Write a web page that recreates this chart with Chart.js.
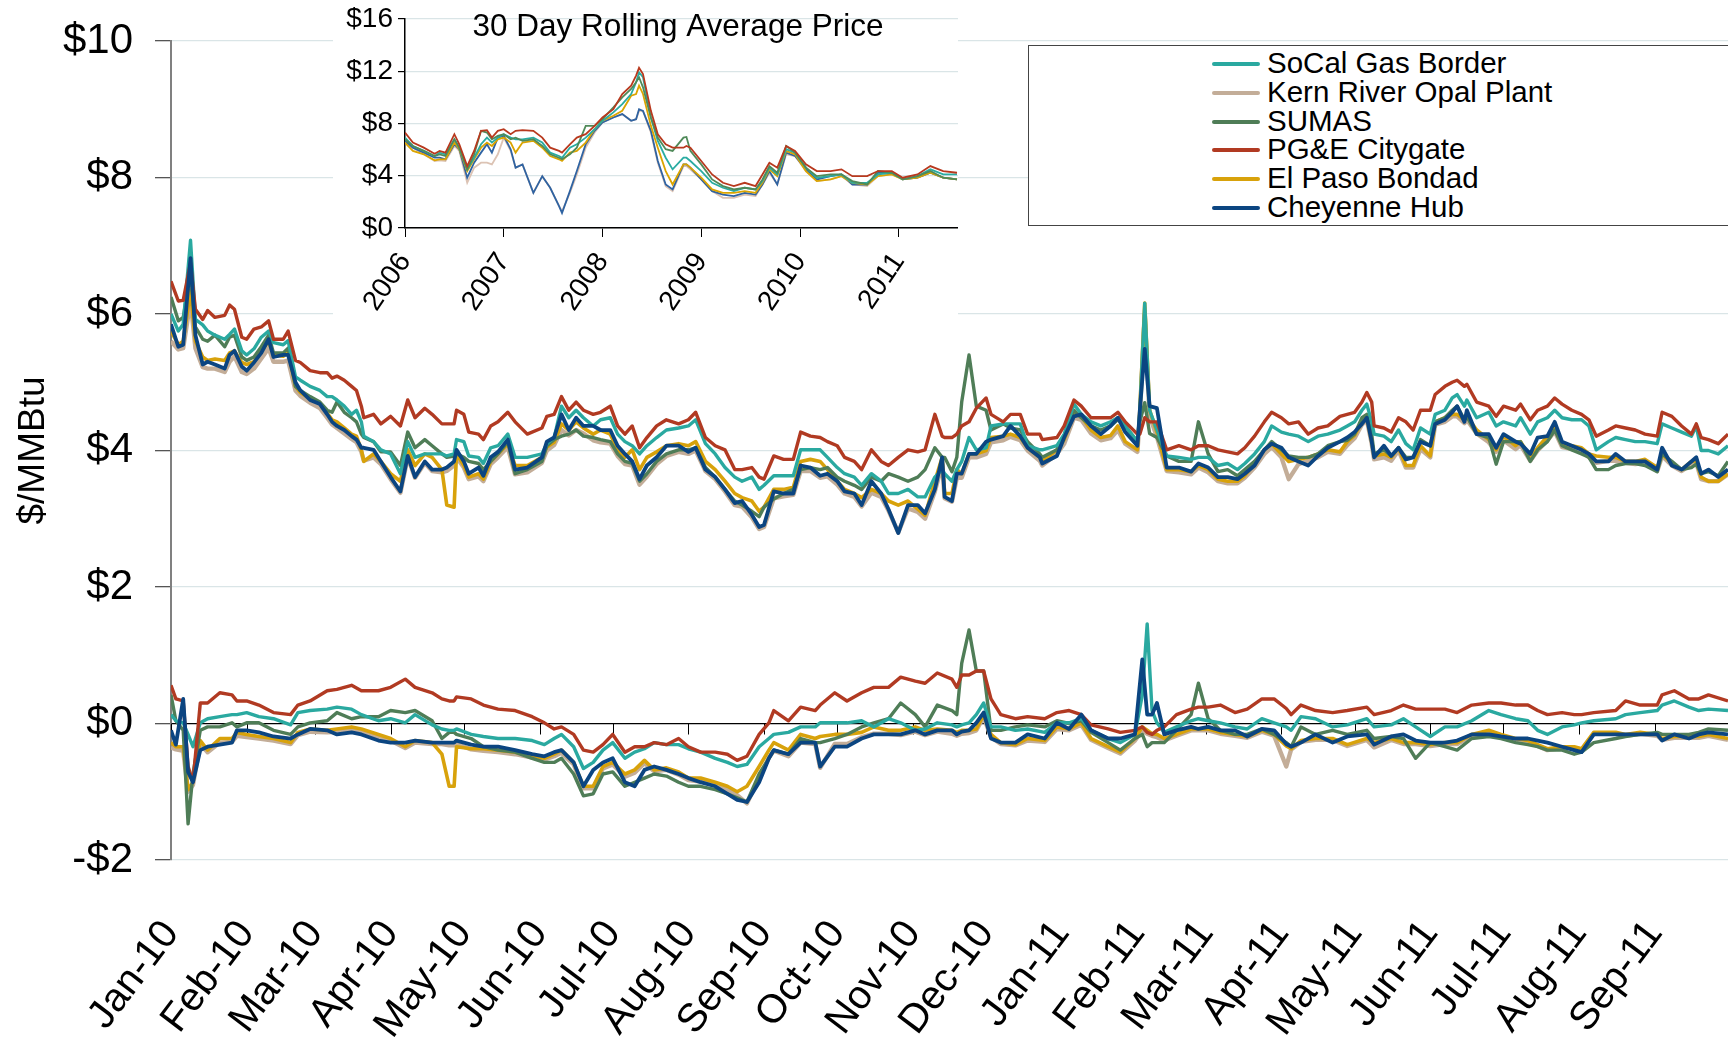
<!DOCTYPE html>
<html>
<head>
<meta charset="utf-8">
<script src="https://cdn.jsdelivr.net/npm/chart.js@4.4.1/dist/chart.umd.min.js"></script>
<style>
  html, body { margin: 0; padding: 0; background: #fff; }
  #wrap { position: relative; width: 1728px; height: 1037px; overflow: hidden; font-family: "Liberation Sans", Arial, sans-serif; }
  #main { position: absolute; left: 0; top: 0; }
  #inset { position: absolute; left: 333px; top: 0; background: #fff; }
  #legend { position: absolute; left: 1028px; top: 45px; width: 705px; height: 181px; border: 1.5px solid #444; background: #fff; padding-top: 3px; box-sizing: border-box; }
  .row { height: 28.8px; line-height: 28.8px; font-size: 29.5px; color: #000; position: relative; white-space: nowrap; }
  .row span.sw { position: absolute; left: 183px; top: 13px; width: 48px; height: 4px; border-radius: 2px; }
  .row span.tx { position: absolute; left: 238px; top: 0; }
</style>
</head>
<body>
<div id="wrap">
  <canvas id="main" width="1728" height="1037"></canvas>
  <canvas id="inset" width="625" height="318"></canvas>
  <div id="legend"></div>
</div>
<script>
// month axis (days since 2010-01-01)
const monthStarts = [0, 31, 59, 90, 120, 151, 181, 212, 243, 273, 304, 334, 365, 396, 424, 455, 485, 516, 546, 577, 608]
const monthLabels = ['Jan-10', 'Feb-10', 'Mar-10', 'Apr-10', 'May-10', 'Jun-10', 'Jul-10', 'Aug-10', 'Sep-10', 'Oct-10', 'Nov-10', 'Dec-10',
  'Jan-11', 'Feb-11', 'Mar-11', 'Apr-11', 'May-11', 'Jun-11', 'Jul-11', 'Aug-11', 'Sep-11']

const stations = ['SoCal Gas Border', 'Kern River Opal Plant', 'SUMAS', 'PG&E Citygate', 'El Paso Bondad', 'Cheyenne Hub']

// daily spot prices, $/MMBtu
const priceDays = [
  0, 3, 5, 8, 10, 13, 15, 18, 22, 24,
  26, 29, 31, 34, 37, 40, 42, 46, 48, 51,
  53, 57, 61, 64, 66, 68, 71, 74, 76, 78,
  79, 83, 86, 90, 94, 97, 100, 104, 107, 111,
  113, 116, 117, 120, 122, 126, 128, 131, 134, 138,
  141, 146, 152, 154, 157, 160, 163, 166, 169, 173,
  176, 180, 183, 186, 189, 192, 195, 199, 203, 208,
  212, 215, 219, 223, 227, 231, 234, 238, 241, 243,
  247, 251, 255, 258, 262, 266, 269, 273, 276, 280,
  283, 287, 291, 294, 298, 302, 306, 309, 313, 316,
  317, 320, 322, 324, 327, 330, 334, 336, 341, 344,
  348, 351, 356, 357, 363, 366, 370, 373, 377, 381,
  385, 388, 391, 396, 397, 399, 401, 404, 408, 413,
  418, 421, 425, 429, 433, 437, 440, 444, 448, 451,
  455, 458, 462, 466, 470, 474, 479, 482, 485, 488,
  490, 492, 493, 497, 500, 503, 506, 509, 512, 516,
  518, 522, 525, 527, 530, 531, 535, 540, 543, 546,
  551, 553, 557, 560, 564, 567, 570, 574, 578, 581,
  584, 589, 592, 596, 600, 604, 609, 611, 615, 619,
  623, 625, 627, 630, 634, 638]

const socalPrice = [
  6.0, 5.75, 5.85, 7.08, 5.92, 5.84, 5.75, 5.69, 5.63, 5.7,
  5.78, 5.46, 5.40, 5.49, 5.66, 5.75, 5.58, 5.55, 5.61, 5.08,
  5.03, 4.94, 4.88, 4.79, 4.79, 4.74, 4.65, 4.53, 4.59, 4.42,
  4.21, 4.13, 4.01, 3.95, 3.66, 4.13, 3.90, 3.95, 3.95, 3.95,
  3.92, 3.95, 4.16, 4.13, 3.92, 3.90, 3.81, 4.04, 4.07, 4.24,
  3.90, 3.90, 3.95, 4.1, 4.19, 4.65, 4.48, 4.59, 4.48, 4.36,
  4.45, 4.48, 4.24, 4.13, 4.07, 3.95, 4.07, 4.19, 4.30, 4.33,
  4.36, 4.45, 4.10, 3.95, 3.75, 3.61, 3.55, 3.61, 3.43, 3.49,
  3.63, 3.63, 3.63, 4.01, 4.01, 4.01, 3.90, 3.75, 3.66, 3.61,
  3.49, 3.66, 3.55, 3.37, 3.37, 3.43, 3.32, 3.32, 3.61, 3.72,
  3.66, 3.55, 3.72, 3.84, 4.19, 4.01, 4.04, 4.36, 4.39, 4.39,
  4.39, 4.07, 4.01, 4.01, 4.07, 4.24, 4.68, 4.53, 4.42, 4.36,
  4.42, 4.48, 4.36, 4.13, 4.56, 6.16, 4.59, 4.3, 3.92, 3.90,
  3.87, 3.90, 3.90, 3.78, 3.81, 3.72, 3.81, 3.95, 4.13, 4.36,
  4.27, 4.24, 4.21, 4.13, 4.21, 4.24, 4.30, 4.36, 4.42, 4.59,
  4.68, 4.42, 4.24, 4.21, 4.13, 4.30, 4.10, 4.01, 4.33, 4.24,
  4.53, 4.59, 4.77, 4.82, 4.65, 4.74, 4.48, 4.56, 4.36, 4.42,
  4.36, 4.48, 4.24, 4.42, 4.48, 4.59, 4.48, 4.45, 4.45, 4.36,
  4.01, 4.13, 4.19, 4.16, 4.13, 4.13, 4.10, 4.39, 4.33, 4.27,
  4.21, 4.36, 4.0, 4.0, 3.95, 4.07]

const kernPrice = [
  5.6, 5.48, 5.5, 6.2, 5.5, 5.22, 5.2, 5.2, 5.15, 5.3,
  5.38, 5.15, 5.12, 5.2, 5.35, 5.5, 5.3, 5.3, 5.32, 4.88,
  4.8, 4.7, 4.62, 4.48, 4.38, 4.33, 4.25, 4.17, 4.12, 3.98,
  3.85, 3.9, 3.8, 3.58, 3.38, 3.9, 3.6, 3.82, 3.7, 3.68,
  3.7, 3.78, 3.9, 3.75, 3.58, 3.62, 3.55, 3.8, 3.9, 4.05,
  3.65, 3.68, 3.82, 4.0, 4.08, 4.3, 4.22, 4.3, 4.25, 4.15,
  4.12, 4.1, 3.92, 3.8, 3.78, 3.5, 3.62, 3.8, 3.92, 3.98,
  3.95, 4.0, 3.7, 3.58, 3.4, 3.2, 3.18, 3.02, 2.85, 2.88,
  3.3, 3.33, 3.35, 3.7, 3.7, 3.6, 3.62, 3.5, 3.37, 3.32,
  3.18, 3.38, 3.32, 3.12, 2.8, 3.15, 3.1, 3.0, 3.4, 3.8,
  3.3, 3.25, 3.6, 3.6, 3.9, 3.9, 3.95, 4.12, 4.15, 4.2,
  4.15, 4.0, 3.85, 3.78, 3.95, 4.1, 4.48, 4.45, 4.25, 4.15,
  4.18, 4.3, 4.1, 3.98, 4.5, 6.0, 4.5, 4.2, 3.7, 3.68,
  3.65, 3.75, 3.68, 3.55, 3.52, 3.52, 3.6, 3.75, 3.95, 4.05,
  3.9, 3.58, 3.8, 3.85, 3.9, 3.98, 3.95, 4.08, 4.18, 4.38,
  4.45, 4.1, 3.87, 3.9, 3.85, 4.0, 3.75, 3.75, 4.02, 3.9,
  4.38, 4.42, 4.5, 4.5, 4.4, 4.45, 4.25, 4.12, 3.98, 4.15,
  4.02, 4.08, 3.85, 4.0, 4.15, 4.28, 4.05, 4.02, 4.0, 3.9,
  3.82, 3.85, 3.85, 3.82, 3.8, 3.82, 3.7, 3.92, 3.78, 3.7,
  3.8, 3.82, 3.58, 3.55, 3.55, 3.65]

const sumasPrice = [
  6.25, 5.9, 5.95, 6.6, 5.81, 5.63, 5.6, 5.69, 5.52, 5.66,
  5.69, 5.37, 5.32, 5.37, 5.52, 5.69, 5.43, 5.43, 5.5, 4.94,
  4.88, 4.79, 4.71, 4.59, 4.56, 4.71, 4.56, 4.48, 4.42, 4.24,
  4.19, 4.13, 3.98, 3.98, 3.78, 4.27, 4.04, 4.16, 4.07, 3.95,
  3.90, 3.92, 3.95, 3.90, 3.84, 3.81, 3.72, 3.84, 3.95, 4.13,
  3.66, 3.72, 3.84, 4.07, 4.16, 4.21, 4.24, 4.30, 4.21, 4.19,
  4.16, 4.13, 3.95, 3.84, 3.81, 3.55, 3.66, 3.84, 3.95, 4.01,
  4.01, 4.04, 3.75, 3.61, 3.43, 3.26, 3.2, 3.11, 3.03, 3.17,
  3.29, 3.37, 3.43, 3.72, 3.75, 3.72, 3.75, 3.61, 3.55, 3.49,
  3.43, 3.61, 3.55, 3.66, 3.61, 3.55, 3.61, 3.72, 4.04, 3.90,
  3.90, 3.69, 3.90, 4.71, 5.40, 4.65, 4.59, 4.30, 4.39, 4.33,
  4.30, 4.13, 3.95, 3.90, 4.01, 4.21, 4.59, 4.48, 4.36, 4.30,
  4.36, 4.45, 4.36, 4.13, 4.42, 4.7, 4.25, 4.19, 3.92, 3.84,
  3.84, 4.42, 3.95, 3.69, 3.72, 3.63, 3.72, 3.84, 4.01, 4.13,
  4.01, 3.92, 3.90, 3.90, 3.95, 4.07, 4.13, 4.15, 4.24, 4.48,
  4.53, 4.24, 3.95, 4.01, 3.92, 4.04, 3.90, 3.90, 4.16, 4.07,
  4.42, 4.48, 4.59, 4.65, 4.45, 4.5, 4.24, 4.19, 3.80, 4.13,
  4.13, 4.13, 3.84, 4.01, 4.13, 4.30, 4.07, 4.01, 3.95, 3.90,
  3.72, 3.72, 3.78, 3.81, 3.81, 3.78, 3.69, 3.95, 3.84, 3.72,
  3.75, 3.8, 3.66, 3.69, 3.63, 3.84]

const pgePrice = [
  6.48, 6.19, 6.2, 6.75, 6.07, 5.92, 6.05, 5.95, 5.98, 6.13,
  6.07, 5.66, 5.63, 5.78, 5.81, 5.90, 5.63, 5.63, 5.75, 5.32,
  5.29, 5.17, 5.14, 5.14, 5.06, 5.09, 5.03, 4.94, 4.88, 4.65,
  4.48, 4.53, 4.39, 4.50, 4.36, 4.74, 4.48, 4.62, 4.53, 4.39,
  4.39, 4.39, 4.59, 4.53, 4.27, 4.24, 4.16, 4.36, 4.42, 4.56,
  4.42, 4.24, 4.33, 4.50, 4.53, 4.79, 4.59, 4.71, 4.59, 4.53,
  4.56, 4.65, 4.36, 4.24, 4.36, 4.04, 4.19, 4.36, 4.45, 4.39,
  4.45, 4.56, 4.19, 4.07, 4.01, 3.72, 3.72, 3.75, 3.61, 3.58,
  3.92, 3.87, 3.87, 4.27, 4.21, 4.19, 4.13, 4.07, 3.90, 3.84,
  3.72, 4.01, 3.84, 3.78, 3.90, 4.01, 3.98, 4.01, 4.53, 4.21,
  4.19, 4.19, 4.24, 4.36, 4.42, 4.62, 4.77, 4.53, 4.42, 4.53,
  4.53, 4.24, 4.24, 4.16, 4.19, 4.36, 4.74, 4.65, 4.48, 4.48,
  4.48, 4.56, 4.42, 4.24, 4.24, 4.48, 4.42, 4.42, 4.01, 4.07,
  4.01, 4.07, 4.07, 4.01, 3.98, 3.95, 4.04, 4.21, 4.42, 4.56,
  4.48, 4.39, 4.42, 4.24, 4.33, 4.36, 4.50, 4.53, 4.56, 4.71,
  4.85, 4.71, 4.36, 4.33, 4.27, 4.48, 4.42, 4.30, 4.59, 4.59,
  4.82, 4.94, 5.0, 5.03, 4.94, 4.97, 4.71, 4.65, 4.50, 4.65,
  4.59, 4.68, 4.45, 4.59, 4.65, 4.77, 4.68, 4.59, 4.53, 4.45,
  4.21, 4.30, 4.36, 4.33, 4.30, 4.24, 4.21, 4.56, 4.50, 4.36,
  4.24, 4.39, 4.19, 4.16, 4.10, 4.24]

const elpasoPrice = [
  5.75, 5.55, 5.6, 6.35, 5.6, 5.37, 5.32, 5.34, 5.32, 5.43,
  5.46, 5.29, 5.26, 5.3, 5.45, 5.6, 5.4, 5.38, 5.45, 4.94,
  4.85, 4.76, 4.7, 4.55, 4.45, 4.42, 4.33, 4.24, 4.21, 4.01,
  3.84, 3.95, 3.84, 3.66, 3.55, 4.01, 3.78, 3.95, 3.90, 3.72,
  3.20, 3.17, 3.95, 3.78, 3.61, 3.66, 3.58, 3.84, 3.95, 4.1,
  3.78, 3.78, 3.9, 4.05, 4.12, 4.39, 4.30, 4.42, 4.33, 4.24,
  4.3, 4.24, 4.01, 3.90, 4.01, 3.72, 3.90, 3.98, 4.07, 4.10,
  4.07, 4.13, 3.84, 3.72, 3.55, 3.37, 3.31, 3.26, 3.11, 3.17,
  3.43, 3.43, 3.46, 3.84, 3.87, 3.84, 3.72, 3.55, 3.43, 3.37,
  3.31, 3.43, 3.37, 3.26, 3.20, 3.26, 3.14, 3.05, 3.55, 3.90,
  3.37, 3.37, 3.72, 3.66, 3.95, 3.95, 4.0, 4.19, 4.21, 4.24,
  4.19, 4.04, 3.90, 3.84, 4.01, 4.16, 4.53, 4.5, 4.30, 4.19,
  4.22, 4.36, 4.13, 4.01, 4.59, 6.16, 4.59, 4.27, 3.72, 3.72,
  3.69, 3.78, 3.72, 3.58, 3.55, 3.55, 3.63, 3.81, 4.01, 4.1,
  3.95, 3.84, 3.87, 3.90, 3.95, 4.01, 3.98, 4.13, 4.22, 4.42,
  4.5, 4.13, 3.92, 3.95, 3.90, 4.04, 3.78, 3.78, 4.07, 3.92,
  4.42, 4.48, 4.53, 4.53, 4.45, 4.5, 4.30, 4.16, 4.01, 4.21,
  4.07, 4.13, 3.90, 4.04, 4.21, 4.33, 4.1, 4.07, 4.04, 3.95,
  3.92, 3.90, 3.90, 3.84, 3.84, 3.87, 3.75, 3.95, 3.81, 3.72,
  3.84, 3.85, 3.61, 3.55, 3.55, 3.66]

const cheyennePrice = [
  5.85, 5.52, 5.55, 6.82, 5.69, 5.26, 5.3, 5.26, 5.2, 5.40,
  5.46, 5.23, 5.17, 5.29, 5.43, 5.63, 5.37, 5.40, 5.40, 5.0,
  4.88, 4.74, 4.68, 4.53, 4.42, 4.36, 4.30, 4.21, 4.16, 4.04,
  4.04, 4.01, 3.84, 3.61, 3.40, 3.92, 3.61, 3.84, 3.72, 3.72,
  3.75, 3.84, 4.01, 3.84, 3.66, 3.75, 3.63, 3.90, 3.98, 4.16,
  3.72, 3.75, 3.90, 4.13, 4.19, 4.53, 4.30, 4.48, 4.36, 4.36,
  4.30, 4.30, 4.07, 3.95, 3.84, 3.58, 3.78, 3.90, 4.07, 4.07,
  3.98, 4.04, 3.72, 3.61, 3.43, 3.23, 3.26, 3.06, 2.88, 2.91,
  3.40, 3.37, 3.37, 3.78, 3.75, 3.63, 3.66, 3.55, 3.40, 3.37,
  3.20, 3.55, 3.37, 3.14, 2.79, 3.20, 3.20, 3.08, 3.43, 3.90,
  3.32, 3.26, 3.66, 3.66, 3.95, 3.95, 4.13, 4.16, 4.21, 4.36,
  4.21, 4.04, 3.90, 3.81, 3.92, 4.19, 4.50, 4.53, 4.36, 4.24,
  4.36, 4.48, 4.27, 4.07, 4.59, 5.49, 4.65, 4.62, 3.75, 3.75,
  3.69, 3.81, 3.75, 3.61, 3.61, 3.58, 3.66, 3.78, 4.01, 4.10,
  4.04, 3.90, 3.84, 3.78, 3.92, 4.04, 4.13, 4.19, 4.27, 4.39,
  4.48, 4.13, 3.90, 4.07, 3.92, 4.04, 3.87, 3.90, 4.13, 4.07,
  4.39, 4.45, 4.56, 4.65, 4.42, 4.59, 4.24, 4.24, 4.04, 4.24,
  4.13, 4.10, 3.95, 4.19, 4.21, 4.42, 4.13, 4.07, 4.01, 3.95,
  3.84, 3.84, 3.95, 3.84, 3.84, 3.84, 3.72, 4.04, 3.78, 3.72,
  3.84, 3.90, 3.66, 3.72, 3.61, 3.72]

// basis to Henry Hub, $/MMBtu
const basisDays = [
  0, 2, 5, 7, 9, 12, 15, 20, 25, 27,
  31, 36, 42, 49, 52, 57, 64, 68, 74, 78,
  85, 90, 96, 100, 107, 111, 114, 116, 117, 123,
  128, 134, 141, 148, 153, 157, 160, 165, 169, 173,
  177, 181, 186, 190, 194, 198, 203, 208, 212, 217,
  223, 228, 232, 236, 241, 245, 247, 253, 258, 264,
  266, 272, 277, 283, 288, 294, 299, 305, 309, 314,
  320, 322, 324, 327, 330, 333, 336, 340, 346, 351,
  358, 363, 368, 373, 377, 384, 389, 395, 398, 400,
  402, 404, 407, 412, 418, 421, 425, 430, 436, 441,
  447, 452, 457, 459, 463, 469, 476, 482, 490, 493,
  500, 505, 510, 516, 522, 527, 533, 540, 545, 551,
  556, 560, 564, 570, 575, 578, 583, 592, 596, 602,
  609, 611, 616, 622, 626, 630, 638]

const socalBasis = [
  0.13, 0.04, 0.01, -0.16, -0.34, 0.01, 0.07, 0.10, 0.13, 0.13,
  0.16, 0.10, 0.07, -0.02, 0.16, 0.19, 0.21, 0.24, 0.21, 0.13,
  0.04, 0.07, 0.01, 0.13, -0.02, -0.08, -0.10, -0.10, -0.08, -0.16,
  -0.19, -0.22, -0.22, -0.25, -0.31, -0.22, -0.16, -0.34, -0.66, -0.57,
  -0.39, -0.28, -0.51, -0.42, -0.37, -0.28, -0.31, -0.31, -0.37, -0.42,
  -0.51, -0.57, -0.63, -0.60, -0.34, -0.22, -0.16, -0.13, -0.05, -0.05,
  0.01, 0.01, 0.01, 0.04, -0.05, 0.07, 0.01, -0.10, -0.08, 0.01,
  -0.02, -0.05, -0.02, 0.01, 0.13, 0.30, -0.05, -0.05, -0.10, -0.08,
  -0.13, 0.01, 0.01, 0.07, -0.10, -0.22, -0.28, -0.16, 0.42, 1.46,
  0.19, 0.01, -0.13, -0.05, 0.04, 0.07, 0.04, 0.01, -0.05, -0.08,
  0.07, 0.01, -0.05, -0.10, 0.10, 0.07, -0.05, -0.02, 0.07, -0.05,
  -0.02, 0.07, -0.05, -0.19, -0.05, -0.05, 0.04, 0.19, 0.13, 0.07,
  0.04, -0.10, -0.16, -0.05, -0.02, 0.01, 0.04, 0.07, 0.13, 0.16,
  0.19, 0.27, 0.33, 0.24, 0.19, 0.21, 0.19]

const kernBasis = [
  -0.35, -0.38, -0.4, -1.0, -0.9, -0.3, -0.42, -0.28, -0.27, -0.18,
  -0.2, -0.22, -0.25, -0.3, -0.17, -0.12, -0.13, -0.12, -0.1, -0.12,
  -0.2, -0.25, -0.36, -0.28, -0.3, -0.3, -0.32, -0.32, -0.3, -0.38,
  -0.4, -0.42, -0.45, -0.5, -0.53, -0.48, -0.43, -0.6, -0.95, -0.95,
  -0.66, -0.6, -0.78, -0.72, -0.58, -0.7, -0.68, -0.75, -0.83, -0.85,
  -0.9, -0.97, -1.05, -1.17, -0.8, -0.5, -0.4, -0.48, -0.28, -0.3,
  -0.65, -0.3, -0.3, -0.2, -0.15, -0.15, -0.17, -0.12, -0.17, -0.12,
  -0.15, -0.18, -0.15, -0.14, -0.1, 0.1, -0.2, -0.3, -0.32, -0.25,
  -0.27, -0.08, -0.1, -0.02, -0.24, -0.36, -0.44, -0.25, -0.1, -0.15,
  -0.18, -0.2, -0.25, -0.18, -0.1, -0.1, -0.1, -0.15, -0.18, -0.21,
  -0.12, -0.18, -0.63, -0.38, -0.27, -0.24, -0.24, -0.33, -0.24, -0.35,
  -0.24, -0.3, -0.3, -0.33, -0.3, -0.3, -0.18, -0.12, -0.18, -0.24,
  -0.27, -0.33, -0.39, -0.36, -0.36, -0.39, -0.15, -0.15, -0.18, -0.15,
  -0.18, -0.24, -0.21, -0.21, -0.21, -0.18, -0.24]

const sumasBasis = [
  0.42, 0.04, -0.1, -1.47, -0.74, -0.10, -0.05, -0.05, 0.01, -0.05,
  0.01, 0.01, -0.10, -0.16, -0.05, 0.01, 0.04, 0.16, 0.07, 0.10,
  0.10, 0.19, 0.16, 0.19, 0.04, -0.22, -0.13, -0.13, -0.16, -0.22,
  -0.34, -0.39, -0.42, -0.51, -0.57, -0.57, -0.51, -0.74, -1.06, -1.03,
  -0.74, -0.71, -0.92, -0.86, -0.80, -0.74, -0.77, -0.86, -0.92, -0.92,
  -0.97, -1.03, -1.09, -1.15, -0.74, -0.51, -0.39, -0.45, -0.22, -0.28,
  -0.28, -0.22, -0.16, -0.05, 0.01, 0.07, 0.30, 0.13, -0.05, 0.27,
  0.19, 0.13, 0.88, 1.37, 0.77, 0.77, -0.10, -0.10, -0.05, -0.02,
  -0.05, 0.04, 0.0, 0.04, -0.13, -0.28, -0.39, -0.22, -0.16, -0.34,
  -0.28, -0.28, -0.28, -0.10, 0.13, 0.59, 0.07, -0.10, -0.16, -0.16,
  -0.08, -0.16, -0.28, -0.34, -0.05, -0.16, -0.10, -0.16, -0.10, -0.22,
  -0.19, -0.22, -0.51, -0.28, -0.34, -0.39, -0.22, -0.19, -0.22, -0.28,
  -0.31, -0.34, -0.39, -0.39, -0.45, -0.42, -0.28, -0.22, -0.19, -0.16,
  -0.13, -0.16, -0.16, -0.16, -0.13, -0.08, -0.10]

const pgeBasis = [
  0.56, 0.36, 0.33, -0.63, -0.86, 0.30, 0.30, 0.45, 0.42, 0.33,
  0.33, 0.27, 0.16, 0.13, 0.27, 0.33, 0.48, 0.50, 0.56, 0.48,
  0.48, 0.53, 0.65, 0.53, 0.45, 0.36, 0.33, 0.33, 0.39, 0.36,
  0.27, 0.21, 0.19, 0.10, 0.01, -0.08, -0.05, -0.16, -0.39, -0.42,
  -0.31, -0.16, -0.42, -0.34, -0.34, -0.28, -0.31, -0.22, -0.34, -0.42,
  -0.42, -0.45, -0.54, -0.48, -0.16, 0.01, 0.19, 0.04, 0.24, 0.19,
  0.27, 0.45, 0.33, 0.45, 0.53, 0.53, 0.68, 0.62, 0.59, 0.74,
  0.65, 0.53, 0.71, 0.71, 0.77, 0.77, 0.36, 0.13, 0.07, 0.10,
  0.07, 0.16, 0.19, 0.13, -0.02, -0.08, -0.13, -0.10, -0.05, -0.13,
  -0.16, -0.10, -0.05, 0.13, 0.21, 0.24, 0.24, 0.27, 0.16, 0.21,
  0.36, 0.36, 0.22, 0.13, 0.27, 0.19, 0.16, 0.19, 0.24, 0.13,
  0.19, 0.27, 0.21, 0.21, 0.21, 0.16, 0.27, 0.30, 0.30, 0.27,
  0.27, 0.19, 0.13, 0.16, 0.13, 0.13, 0.16, 0.19, 0.33, 0.27,
  0.27, 0.42, 0.48, 0.36, 0.36, 0.42, 0.33]

const elpasoBasis = [
  -0.28, -0.34, -0.34, -0.97, -0.86, -0.25, -0.39, -0.22, -0.22, -0.13,
  -0.16, -0.19, -0.22, -0.28, -0.13, -0.08, -0.10, -0.08, -0.05, -0.08,
  -0.16, -0.22, -0.34, -0.25, -0.28, -0.45, -0.92, -0.92, -0.34, -0.37,
  -0.37, -0.39, -0.42, -0.48, -0.51, -0.45, -0.39, -0.57, -0.92, -0.92,
  -0.63, -0.57, -0.74, -0.68, -0.54, -0.68, -0.65, -0.71, -0.80, -0.80,
  -0.86, -0.92, -1.0, -0.92, -0.63, -0.39, -0.28, -0.39, -0.16, -0.22,
  -0.19, -0.16, -0.16, -0.13, -0.05, -0.10, -0.10, -0.05, -0.10, -0.08,
  -0.10, -0.13, -0.10, -0.10, -0.08, 0.13, -0.16, -0.28, -0.31, -0.22,
  -0.25, -0.05, -0.08, 0.01, -0.22, -0.34, -0.42, -0.22, -0.05, -0.10,
  -0.15, -0.16, -0.22, -0.16, -0.08, -0.08, -0.08, -0.13, -0.16, -0.19,
  -0.10, -0.16, -0.33, -0.37, -0.25, -0.22, -0.22, -0.31, -0.22, -0.28,
  -0.22, -0.28, -0.28, -0.31, -0.28, -0.28, -0.16, -0.10, -0.16, -0.22,
  -0.25, -0.31, -0.37, -0.34, -0.34, -0.37, -0.13, -0.13, -0.16, -0.13,
  -0.16, -0.22, -0.19, -0.19, -0.19, -0.16, -0.22]

const cheyenneBasis = [
  -0.10, -0.31, 0.36, -0.71, -0.86, -0.39, -0.34, -0.31, -0.28, -0.10,
  -0.10, -0.13, -0.19, -0.22, -0.16, -0.08, -0.10, -0.16, -0.13, -0.16,
  -0.25, -0.28, -0.28, -0.25, -0.28, -0.28, -0.28, -0.28, -0.25, -0.31,
  -0.34, -0.34, -0.39, -0.45, -0.48, -0.42, -0.39, -0.57, -0.92, -0.68,
  -0.57, -0.51, -0.86, -0.92, -0.68, -0.63, -0.68, -0.74, -0.80, -0.86,
  -0.92, -1.03, -1.12, -1.15, -0.86, -0.51, -0.39, -0.45, -0.28, -0.28,
  -0.63, -0.34, -0.34, -0.22, -0.16, -0.16, -0.16, -0.10, -0.16, -0.10,
  -0.10, -0.16, -0.12, -0.10, 0.01, 0.16, -0.22, -0.28, -0.28, -0.16,
  -0.22, 0.01, -0.08, 0.13, -0.10, -0.22, -0.22, -0.16, 0.94, 0.13,
  0.13, 0.30, -0.16, -0.10, -0.05, -0.08, -0.05, -0.10, -0.10, -0.19,
  -0.08, -0.10, -0.30, -0.34, -0.28, -0.16, -0.28, -0.19, -0.16, -0.31,
  -0.19, -0.16, -0.25, -0.28, -0.28, -0.25, -0.16, -0.16, -0.19, -0.22,
  -0.22, -0.25, -0.28, -0.34, -0.39, -0.42, -0.16, -0.16, -0.16, -0.16,
  -0.16, -0.25, -0.16, -0.22, -0.16, -0.13, -0.16]

// inset: 30 day rolling average, 2006 - 2011
const insetYears = [
  2006.00, 2006.08, 2006.19, 2006.30, 2006.35, 2006.41, 2006.50, 2006.55, 2006.63, 2006.70,
  2006.77, 2006.83, 2006.88, 2006.94, 2007.00, 2007.07, 2007.12, 2007.19, 2007.30, 2007.39,
  2007.47, 2007.56, 2007.59, 2007.67, 2007.74, 2007.83, 2007.92, 2008.00, 2008.11, 2008.20,
  2008.29, 2008.34, 2008.37, 2008.41, 2008.49, 2008.56, 2008.64, 2008.71, 2008.82, 2008.85,
  2008.89, 2009.00, 2009.11, 2009.22, 2009.33, 2009.44, 2009.55, 2009.62, 2009.69, 2009.77,
  2009.86, 2009.95, 2010.06, 2010.17, 2010.31, 2010.42, 2010.53, 2010.68, 2010.79, 2010.93,
  2011.04, 2011.19, 2011.32, 2011.45, 2011.59]

const socalAvg = [
  6.92, 6.28, 5.90, 5.51, 5.77, 5.64, 6.79, 6.15, 4.49, 5.38,
  6.41, 6.92, 6.54, 6.92, 7.18, 6.92, 6.79, 6.79, 6.92, 6.54,
  5.77, 5.51, 5.38, 6.15, 6.41, 6.92, 7.56, 8.21, 8.85, 9.49,
  10.26, 11.15, 11.92, 11.54, 8.46, 6.67, 5.38, 4.49, 5.38, 5.38,
  5.13, 4.36, 3.46, 3.08, 2.82, 3.08, 2.95, 3.59, 4.62, 4.10,
  6.03, 5.77, 4.62, 3.85, 3.97, 4.10, 3.46, 3.46, 4.10, 4.23,
  3.72, 3.97, 4.49, 4.10, 4.10]

const kernAvg = [
  6.54, 6.15, 5.64, 5.13, 5.18, 5.13, 6.28, 5.90, 3.46, 4.62,
  5.0, 5.0, 4.87, 5.64, 6.92, 5.90, 4.62, 4.87, 2.69, 3.97,
  3.08, 1.67, 1.28, 2.69, 4.10, 6.15, 7.31, 8.08, 8.46, 8.72,
  8.21, 8.33, 8.97, 8.97, 7.31, 5.0, 3.21, 2.82, 4.74, 4.74,
  4.49, 3.72, 2.82, 2.31, 2.31, 2.56, 2.44, 3.33, 4.23, 3.33,
  5.64, 5.51, 4.36, 3.59, 3.72, 3.97, 3.33, 3.21, 3.97, 4.10,
  3.72, 3.85, 4.23, 3.85, 3.72]

const sumasAvg = [
  6.79, 6.28, 5.90, 5.51, 5.64, 5.51, 6.79, 6.15, 4.49, 5.64,
  7.44, 7.31, 6.79, 7.05, 7.18, 6.79, 6.92, 6.67, 6.79, 6.28,
  5.64, 5.38, 5.26, 5.64, 6.15, 7.82, 7.82, 8.33, 9.23, 10.0,
  10.64, 11.15, 11.54, 10.77, 8.46, 6.92, 6.03, 5.90, 6.92, 6.97,
  5.90, 4.87, 3.72, 3.21, 2.95, 3.08, 2.95, 3.72, 4.74, 4.23,
  6.28, 5.77, 4.62, 3.97, 4.10, 4.10, 3.59, 3.33, 4.36, 4.23,
  3.72, 3.97, 4.36, 3.85, 3.72]

const pgeAvg = [
  7.31, 6.54, 6.15, 5.69, 5.90, 5.77, 7.18, 6.41, 4.74, 5.90,
  7.44, 7.49, 6.92, 7.44, 7.56, 7.18, 7.44, 7.49, 7.44, 6.92,
  6.15, 5.90, 5.77, 6.41, 6.92, 7.18, 7.82, 8.46, 9.10, 10.26,
  10.90, 11.67, 12.26, 11.79, 8.97, 7.18, 6.41, 6.15, 6.15, 6.28,
  6.15, 5.13, 4.10, 3.46, 3.21, 3.46, 3.21, 4.10, 5.0, 4.62,
  6.28, 5.90, 4.87, 4.36, 4.36, 4.49, 3.97, 3.97, 4.36, 4.36,
  3.85, 4.10, 4.74, 4.36, 4.23]

const elpasoAvg = [
  6.54, 5.90, 5.64, 5.18, 5.26, 5.26, 6.54, 6.03, 4.36, 5.26,
  6.15, 6.54, 6.28, 6.79, 6.92, 6.54, 5.77, 6.54, 6.67, 6.15,
  5.51, 5.26, 5.13, 5.77, 5.90, 6.54, 7.56, 8.21, 8.59, 8.97,
  10.13, 10.26, 10.90, 10.26, 7.82, 6.15, 4.36, 3.33, 4.87, 4.87,
  4.62, 3.85, 2.95, 2.69, 2.69, 2.82, 2.69, 3.46, 4.49, 3.97,
  5.90, 5.64, 4.36, 3.59, 3.72, 3.97, 3.46, 3.33, 3.97, 4.10,
  3.72, 3.85, 4.23, 3.85, 3.72]

const cheyenneAvg = [
  6.67, 6.15, 5.77, 5.38, 5.38, 5.26, 6.41, 6.03, 3.85, 5.0,
  5.77, 6.41, 5.77, 6.92, 7.05, 6.03, 4.62, 4.87, 2.69, 3.97,
  3.08, 1.67, 1.15, 2.82, 4.36, 6.41, 7.44, 8.08, 8.46, 8.72,
  8.21, 8.33, 9.10, 8.97, 7.44, 5.13, 3.33, 2.95, 4.87, 4.87,
  4.62, 3.72, 2.82, 2.56, 2.44, 2.69, 2.56, 3.33, 4.36, 3.33,
  5.77, 5.51, 4.49, 3.72, 3.97, 4.10, 3.33, 3.33, 4.23, 4.23,
  3.72, 3.85, 4.23, 3.85, 3.72]

const insetYearTicks = [2006, 2007, 2008, 2009, 2010, 2011]

const colors = ['#2aa9a0', '#c3ad98', '#4f7d57', '#b13a22', '#d8a20b', '#0b4581']
const insetColors = ['#2aaca2', '#dcc3b4', '#4f8a59', '#b8391e', '#dba400', '#2f63a2']
const drawOrder = [2, 5, 3, 1, 4, 0]   // lower = on top
const widths = [3.4, 4.4, 3.4, 3.4, 3.6, 3.8]

const prices = [socalPrice, kernPrice, sumasPrice, pgePrice, elpasoPrice, cheyennePrice]
const bases = [socalBasis, kernBasis, sumasBasis, pgeBasis, elpasoBasis, cheyenneBasis]
const avgs = [socalAvg, kernAvg, sumasAvg, pgeAvg, elpasoAvg, cheyenneAvg]

const FONT = "'Liberation Sans', Arial, sans-serif"

const pts = (xs, ys) => xs.map((x, i) => ({ x: x, y: ys[i] }))

const datasets = []
stations.forEach((name, i) => {
  const common = {
    borderColor: colors[i],
    borderWidth: widths[i],
    pointRadius: 0,
    tension: 0,
    fill: false,
    order: drawOrder[i],
    borderJoinStyle: 'round'
  }
  datasets.push(Object.assign({ label: name, data: pts(priceDays, prices[i]) }, common))
  datasets.push(Object.assign({ label: name + ' basis', data: pts(basisDays, bases[i]) }, common))
})

// little tick marks along the $0 axis line
const zeroTicks = {
  id: 'zeroTicks',
  beforeDatasetsDraw(chart) {
    const { ctx, scales: { x, y } } = chart
    const y0 = y.getPixelForValue(0)
    ctx.save()
    ctx.strokeStyle = '#000'
    ctx.lineWidth = 1
    monthStarts.forEach(m => {
      const px = Math.round(x.getPixelForValue(m)) + 0.5
      ctx.beginPath()
      ctx.moveTo(px, y0)
      ctx.lineTo(px, y0 + 11)
      ctx.stroke()
    })
    ctx.restore()
  }
}

new Chart(document.getElementById('main'), {
  type: 'line',
  data: { datasets: datasets },
  plugins: [zeroTicks],
  options: {
    responsive: false,
    animation: false,
    devicePixelRatio: 1,
    layout: { padding: { top: 41, right: 0, bottom: 0, left: 0 } },
    plugins: { legend: { display: false }, tooltip: { enabled: false } },
    scales: {
      x: {
        type: 'linear',
        min: 0,
        max: 638,
        afterBuildTicks: (s) => { s.ticks = monthStarts.map(v => ({ value: v })) },
        afterFit: (s) => { s.height = 177; s.paddingLeft = 0; s.paddingRight = 0 },
        grid: { display: false },
        border: { display: false },
        ticks: {
          autoSkip: false,
          maxRotation: 53,
          minRotation: 53,
          padding: 44,
          color: '#000',
          font: { family: FONT, size: 40 },
          callback: (v, i) => monthLabels[i]
        }
      },
      y: {
        min: -2,
        max: 10,
        afterFit: (s) => { s.width = 171; s.paddingTop = 0; s.paddingBottom = 0 },
        border: { display: true, color: '#808080', width: 2 },
        grid: {
          color: (c) => c.tick && c.tick.value === 0 ? '#000' : '#dae5e7',
          lineWidth: 1.3,
          tickColor: '#555',
          tickLength: 16
        },
        ticks: {
          stepSize: 2,
          padding: 22,
          color: '#000',
          font: { family: FONT, size: 42 },
          callback: (v) => (v < 0 ? '-$' : '$') + Math.abs(v)
        },
        title: {
          display: true,
          text: '$/MMBtu',
          color: '#000',
          font: { family: FONT, size: 37 },
          padding: { top: 12, bottom: 0 }
        }
      }
    }
  }
})

// inset
const insetTitle = {
  id: 'insetTitle',
  afterDraw(chart) {
    const { ctx } = chart
    ctx.save()
    ctx.fillStyle = '#000'
    ctx.font = '31.5px ' + FONT
    ctx.textAlign = 'center'
    ctx.textBaseline = 'middle'
    ctx.fillText('30 Day Rolling Average Price', 345, 27)
    ctx.restore()
  }
}

const insetOrder = [2, 5, 1, 0, 3, 4]
new Chart(document.getElementById('inset'), {
  type: 'line',
  data: {
    datasets: stations.map((name, i) => ({
      label: name,
      data: pts(insetYears, avgs[i]),
      borderColor: insetColors[i],
      borderWidth: 1.8,
      pointRadius: 0,
      tension: 0,
      order: insetOrder[i]
    }))
  },
  plugins: [insetTitle],
  options: {
    responsive: false,
    animation: false,
    devicePixelRatio: 1,
    layout: { padding: { top: 19, right: 0, bottom: 0, left: 0 } },
    plugins: { legend: { display: false }, tooltip: { enabled: false } },
    scales: {
      x: {
        type: 'linear',
        min: 2006,
        max: 2011.6,
        afterBuildTicks: (s) => { s.ticks = insetYearTicks.map(v => ({ value: v })) },
        afterFit: (s) => { s.height = 90; s.paddingLeft = 0; s.paddingRight = 0 },
        border: { display: true, color: '#000', width: 1.5 },
        grid: { drawOnChartArea: false, tickLength: 9, tickColor: '#000' },
        ticks: {
          autoSkip: false,
          maxRotation: 56,
          minRotation: 56,
          padding: 10,
          color: '#000',
          font: { family: FONT, size: 28 },
          callback: (v) => String(v)
        }
      },
      y: {
        min: 0,
        max: 16,
        afterFit: (s) => { s.width = 72; s.paddingTop = 0; s.paddingBottom = 0 },
        border: { display: true, color: '#000', width: 1.5 },
        grid: { color: '#dae5e7', lineWidth: 1.2, tickColor: '#000', tickLength: 7 },
        ticks: {
          stepSize: 4,
          padding: 5,
          color: '#000',
          font: { family: FONT, size: 28 },
          callback: (v) => '$' + v
        }
      }
    }
  }
})

// legend box
const legend = document.getElementById('legend')
stations.forEach((name, i) => {
  const row = document.createElement('div')
  row.className = 'row'
  row.innerHTML = '<span class="sw" style="background:' + colors[i] + '"></span><span class="tx"></span>'
  row.querySelector('.tx').textContent = name
  legend.appendChild(row)
})
</script>
</body>
</html>
